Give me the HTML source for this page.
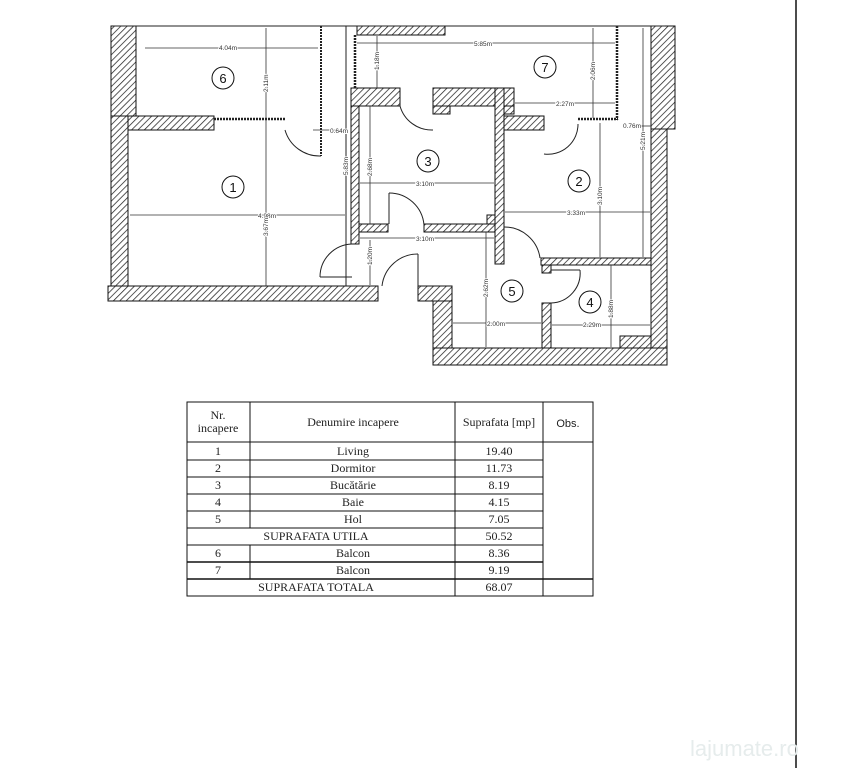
<!DOCTYPE html>
<html><head><meta charset="utf-8"><style>
html,body{margin:0;padding:0;background:#fff;}
svg{display:block;}
.t{font-family:"Liberation Serif",serif;font-size:12px;fill:#222;}
.d{font-family:"Liberation Sans",sans-serif;font-size:6.5px;fill:#333;paint-order:stroke;stroke:#fff;stroke-width:2px;}
.n{font-family:"Liberation Sans",sans-serif;font-size:13px;fill:#111;}
</style></head><body>
<svg width="846" height="768" viewBox="0 0 846 768" xmlns="http://www.w3.org/2000/svg">
<defs>
<pattern id="h" patternUnits="userSpaceOnUse" width="4.5" height="4.5" patternTransform="rotate(45)">
<rect width="4.5" height="4.5" fill="#fff"/><line x1="0" y1="0" x2="0" y2="4.5" stroke="#222" stroke-width="1.5"/>
</pattern>
</defs>
<line x1="796" y1="0" x2="796" y2="768" stroke="#111" stroke-width="1.5"/>
<g fill="url(#h)" stroke="#111" stroke-width="1">
<rect x="111" y="26" width="25" height="90"/>
<rect x="111" y="116" width="17" height="171"/>
<rect x="108" y="286" width="270" height="15"/>
<rect x="128" y="116" width="86" height="14"/>
<rect x="357" y="26" width="88" height="9"/>
<rect x="351" y="88" width="8" height="156"/>
<rect x="351" y="88" width="49" height="18"/>
<rect x="433" y="88" width="81" height="18"/>
<rect x="433" y="106" width="17" height="8"/>
<rect x="495" y="106" width="19" height="8"/>
<rect x="495" y="88" width="9" height="176"/>
<rect x="359" y="224" width="29" height="8"/>
<rect x="424" y="224" width="71" height="8"/>
<rect x="487" y="215" width="8" height="9"/>
<rect x="504" y="116" width="40" height="14"/>
<rect x="651" y="26" width="24" height="103"/>
<rect x="651" y="129" width="16" height="236"/>
<rect x="541" y="258" width="110" height="7"/>
<rect x="542" y="265" width="9" height="8"/>
<rect x="542" y="303" width="9" height="45"/>
<rect x="433" y="348" width="234" height="17"/>
<rect x="433" y="286" width="19" height="62"/>
<rect x="418" y="286" width="34" height="15"/>
<rect x="620" y="336" width="31" height="12"/>
</g>
<g stroke="#222" fill="none" stroke-width="1">
<line x1="113" y1="26" x2="665" y2="26"/>
<line x1="214" y1="119" x2="285" y2="119" stroke-dasharray="2,1" stroke-width="2.5"/>
<line x1="321" y1="26" x2="321" y2="156" stroke-dasharray="2,1" stroke-width="2"/>
<line x1="355" y1="35" x2="355" y2="88" stroke-dasharray="2,1" stroke-width="2.5"/>
<line x1="617" y1="26" x2="617" y2="120" stroke-dasharray="2,1" stroke-width="2.5"/>
<line x1="578" y1="119" x2="618" y2="119" stroke-dasharray="2,1" stroke-width="2.5"/>
<line x1="346" y1="26" x2="346" y2="286"/>
<path d="M285 130 A36 36 0 0 0 321 156"/>
<path d="M400 106 A33 33 0 0 0 433 130"/>
<path d="M578 124 A30 30 0 0 1 544 154"/>
<path d="M389 193 A35 35 0 0 1 424 225"/><line x1="389" y1="193" x2="389" y2="224"/>
<path d="M352 244 A33 33 0 0 0 320 277"/><line x1="320" y1="277" x2="352" y2="277"/>
<path d="M418 254 A36 36 0 0 0 382 286"/><line x1="418" y1="254" x2="418" y2="286"/>
<path d="M504 227 A36 36 0 0 1 540 258"/>
<path d="M551 303 A30 30 0 0 0 580 270"/><line x1="551" y1="270" x2="580" y2="270"/>
</g>
<g stroke="#333" stroke-width="0.8">
<line x1="145" y1="48" x2="318" y2="48"/>
<line x1="266" y1="28" x2="266" y2="286"/>
<line x1="357" y1="43" x2="615" y2="43"/>
<line x1="377" y1="36" x2="377" y2="88"/>
<line x1="593" y1="28" x2="593" y2="118"/>
<line x1="515" y1="103" x2="615" y2="103"/>
<line x1="313" y1="130" x2="346" y2="130"/>
<line x1="640" y1="126" x2="651" y2="126"/>
<line x1="643" y1="28" x2="643" y2="257"/>
<line x1="600" y1="123" x2="600" y2="257"/>
<line x1="370" y1="106" x2="370" y2="224"/>
<line x1="360" y1="183" x2="494" y2="183"/>
<line x1="130" y1="215" x2="345" y2="215"/>
<line x1="505" y1="212" x2="650" y2="212"/>
<line x1="360" y1="238" x2="494" y2="238"/>
<line x1="370" y1="240" x2="370" y2="285"/>
<line x1="486" y1="232" x2="486" y2="347"/>
<line x1="453" y1="323" x2="541" y2="323"/>
<line x1="552" y1="325" x2="650" y2="325"/>
<line x1="611" y1="265" x2="611" y2="347"/>
</g>
<g class="d">
<text x="219" y="50">4.04m</text>
<text x="474" y="46">5.85m</text>
<text x="556" y="106">2.27m</text>
<text x="330" y="133">0.64m</text>
<text x="623" y="128">0.76m</text>
<text x="416" y="186">3.10m</text>
<text x="258" y="218">4.98m</text>
<text x="567" y="215">3.33m</text>
<text x="416" y="241">3.10m</text>
<text x="487" y="326">2.00m</text>
<text x="583" y="327">2.29m</text>
<text transform="translate(268,92) rotate(-90)">2.11m</text>
<text transform="translate(268,236) rotate(-90)">3.67m</text>
<text transform="translate(379,70) rotate(-90)">1.18m</text>
<text transform="translate(595,80) rotate(-90)">2.06m</text>
<text transform="translate(348,175) rotate(-90)">5.83m</text>
<text transform="translate(645,150) rotate(-90)">5.21m</text>
<text transform="translate(372,176) rotate(-90)">2.68m</text>
<text transform="translate(602,205) rotate(-90)">3.10m</text>
<text transform="translate(372,265) rotate(-90)">1.20m</text>
<text transform="translate(488,297) rotate(-90)">2.62m</text>
<text transform="translate(613,318) rotate(-90)">1.88m</text>
</g>
<g fill="#fff" stroke="#111" stroke-width="1">
<circle cx="223" cy="78" r="11"/><circle cx="545" cy="67" r="11"/>
<circle cx="428" cy="161" r="11"/><circle cx="233" cy="187" r="11"/>
<circle cx="579" cy="181" r="11"/><circle cx="512" cy="291" r="11"/>
<circle cx="590" cy="302" r="11"/>
</g>
<g class="n" text-anchor="middle">
<text x="223" y="83">6</text><text x="545" y="72">7</text><text x="428" y="166">3</text>
<text x="233" y="192">1</text><text x="579" y="186">2</text><text x="512" y="296">5</text><text x="590" y="307">4</text>
</g>
<g stroke="#111" stroke-width="1" fill="none">
<rect x="187" y="402" width="406" height="194"/>
<line x1="250" y1="402" x2="250" y2="528"/>
<line x1="250" y1="545" x2="250" y2="579"/>
<line x1="455" y1="402" x2="455" y2="596"/>
<line x1="543" y1="402" x2="543" y2="596"/>
<line x1="187" y1="442" x2="593" y2="442"/>
<line x1="187" y1="460" x2="543" y2="460"/>
<line x1="187" y1="477" x2="543" y2="477"/>
<line x1="187" y1="494" x2="543" y2="494"/>
<line x1="187" y1="511" x2="543" y2="511"/>
<line x1="187" y1="528" x2="543" y2="528"/>
<line x1="187" y1="545" x2="543" y2="545"/>
<line x1="187" y1="562" x2="543" y2="562" stroke-width="1.6"/>
<line x1="187" y1="579" x2="593" y2="579" stroke-width="1.4"/>
</g>
<g class="t" text-anchor="middle">
<text x="218" y="419">Nr.</text><text x="218" y="432">incapere</text>
<text x="353" y="426">Denumire incapere</text>
<text x="499" y="426">Suprafata [mp]</text>
<text x="568" y="427" style="font-family:'Liberation Sans',sans-serif;font-size:11px">Obs.</text>
<text x="218" y="455">1</text><text x="353" y="455">Living</text><text x="499" y="455">19.40</text>
<text x="218" y="472">2</text><text x="353" y="472">Dormitor</text><text x="499" y="472">11.73</text>
<text x="218" y="489">3</text><text x="353" y="489">Bucătărie</text><text x="499" y="489">8.19</text>
<text x="218" y="506">4</text><text x="353" y="506">Baie</text><text x="499" y="506">4.15</text>
<text x="218" y="523">5</text><text x="353" y="523">Hol</text><text x="499" y="523">7.05</text>
<text x="316" y="540">SUPRAFATA UTILA</text><text x="499" y="540">50.52</text>
<text x="218" y="557">6</text><text x="353" y="557">Balcon</text><text x="499" y="557">8.36</text>
<text x="218" y="574">7</text><text x="353" y="574">Balcon</text><text x="499" y="574">9.19</text>
<text x="316" y="591">SUPRAFATA TOTALA</text><text x="499" y="591">68.07</text>
</g>
<text x="690" y="756" style="font-family:'Liberation Sans',sans-serif;font-size:22px;fill:#e6ecec">lajumate.ro</text>
</svg>
</body></html>
